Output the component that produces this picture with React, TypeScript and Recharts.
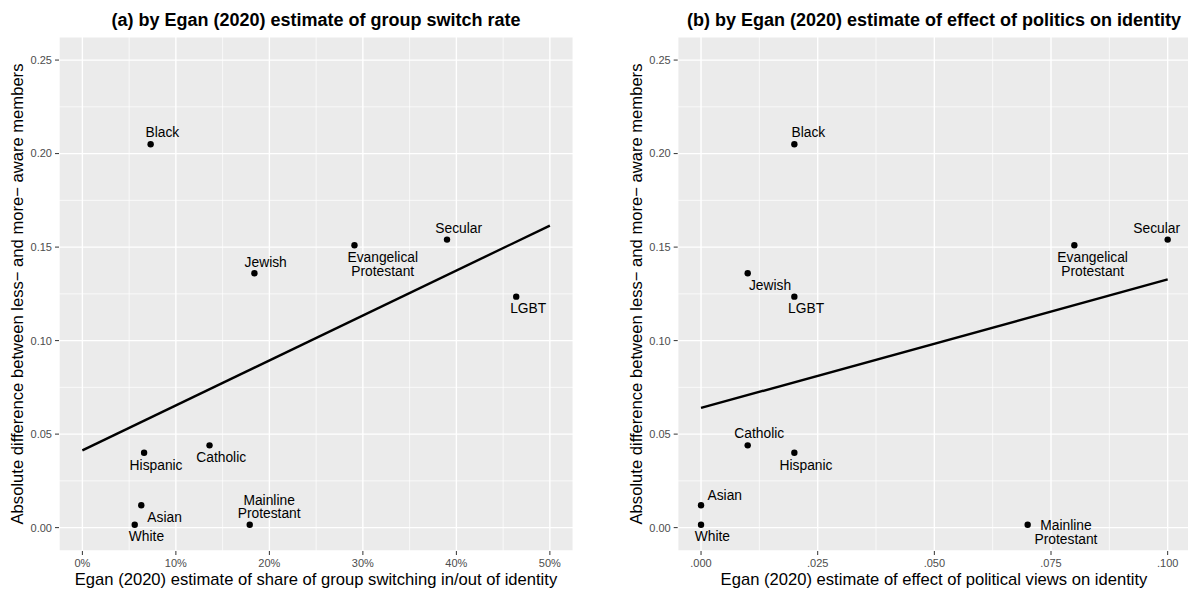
import React from 'react';
import { ScatterChart, Scatter, XAxis, YAxis, CartesianGrid, ReferenceLine } from 'recharts';

// groups and their values
const groups = ['Black', 'Jewish', 'Evangelical Protestant', 'Secular', 'LGBT', 'Hispanic', 'Catholic', 'Asian', 'White', 'Mainline Protestant'];
const switchShare = [0.073, 0.184, 0.291, 0.39, 0.464, 0.066, 0.136, 0.063, 0.056, 0.179];
const politicsEffect = [0.02, 0.01, 0.08, 0.1, 0.02, 0.02, 0.01, 0, 0, 0.07];
const awarenessGap = [0.205, 0.136, 0.151, 0.154, 0.1235, 0.04, 0.044, 0.012, 0.0015, 0.0015];

// fitted lines (endpoints)
const fitSwitchX = [0, 0.5];
const fitSwitchY = [0.0413, 0.1615];
const fitPoliticsX = [0, 0.1];
const fitPoliticsY = [0.064, 0.1327];

// ticks
const yTicks = [0, 0.05, 0.1, 0.15, 0.2, 0.25];
const yMinor = [0.025, 0.075, 0.125, 0.175, 0.225];
const switchTicks = [0, 0.1, 0.2, 0.3, 0.4, 0.5];
const switchMinor = [0.05, 0.15, 0.25, 0.35, 0.45];
const politicsTicks = [0, 0.025, 0.05, 0.075, 0.1];
const politicsMinor = [0.0125, 0.0375, 0.0625, 0.0875];

// where the repelled labels sit relative to each dot (first line centre, px)
const labelShiftA = [[11.7, -11.3], [11.3, -11], [28.3, 12.3], [11.7, -11.3], [12, 12], [12, 12.7], [11.7, 12.6], [23.3, 12], [11.7, 12], [19.4, -24.6]];
const labelShiftB = [[14, -11.3], [22.3, 12.4], [18.3, 12.3], [-11, -11.3], [11.7, 12.3], [11.7, 12.7], [11.6, -11.4], [23.7, -10], [11.3, 12], [38.3, 0.7]];

const FONT = '"Liberation Sans", Arial, Helvetica, sans-serif';
const yTitle = 'Absolute difference between less\u2212 and more\u2212 aware members';

const dataA = groups.map((name, i) => ({ name, x: switchShare[i], y: awarenessGap[i], i }));
const dataB = groups.map((name, i) => ({ name, x: politicsEffect[i], y: awarenessGap[i], i }));

const makeDot = (shifts: number[][]) => (props: any) => {
  const { cx, cy, payload } = props;
  const [dx, dy] = shifts[payload.i];
  const lines = payload.name.split(' ');
  return (
    <g>
      <circle cx={cx} cy={cy} r={3.2} fill="#000" />
      {lines.map((t: string, k: number) => (
        <text key={k} x={cx + dx} y={cy + dy + k * 13.7} textAnchor="middle" dominantBaseline="central"
          fontSize={13.8} fontFamily={FONT} fill="#000">{t}</text>
      ))}
    </g>
  );
};

const tickStyle = { fontSize: 11, fill: '#4d4d4d', fontFamily: FONT };
const pct = (v: number) => `${Math.round(v * 100)}%`;
const dec = (v: number) => v.toFixed(3).replace(/^0/, '');

interface PanelProps {
  data: any[];
  xDomain: number[];
  xTicks: number[];
  xMinor: number[];
  xFmt: (v: number) => string;
  fitX: number[];
  fitY: number[];
  shifts: number[][];
  width: number;
  yAxisWidth: number;
  rightMargin: number;
}

const Panel = ({ data, xDomain, xTicks, xMinor, xFmt, fitX, fitY, shifts, width, yAxisWidth, rightMargin }: PanelProps) => (
  <ScatterChart width={width} height={591} margin={{ top: 36.7, right: rightMargin, bottom: 0, left: 0 }}>
    <CartesianGrid stroke="#fff" strokeWidth={1.4} fill="#EBEBEB" fillOpacity={1} />
    {xMinor.map(v => <ReferenceLine key={'x' + v} x={v} stroke="#fff" strokeWidth={0.7} />)}
    {yMinor.map(v => <ReferenceLine key={'y' + v} y={v} stroke="#fff" strokeWidth={0.7} />)}
    <XAxis type="number" dataKey="x" domain={xDomain} ticks={xTicks} tickFormatter={xFmt} allowDataOverflow
      axisLine={false} tickSize={4} tickMargin={4} tick={tickStyle} tickLine={{ stroke: '#333' }} height={40} />
    <YAxis type="number" dataKey="y" domain={[-0.0125, 0.2625]} ticks={yTicks} tickFormatter={(v: number) => v.toFixed(2)}
      allowDataOverflow axisLine={false} tickSize={4} tickMargin={3} tick={tickStyle} tickLine={{ stroke: '#333' }} width={yAxisWidth} />
    <ReferenceLine segment={[{ x: fitX[0], y: fitY[0] }, { x: fitX[1], y: fitY[1] }]} stroke="#000" strokeWidth={2.4} />
    <Scatter data={data} isAnimationActive={false} shape={makeDot(shifts)} />
  </ScatterChart>
);

const abs = (left: number, top: number, extra: any = {}) => ({
  position: 'absolute' as const, left, top, transform: 'translate(-50%, -50%)', whiteSpace: 'nowrap' as const,
  fontFamily: FONT, color: '#000', lineHeight: 1, ...extra,
});

export default function App() {
  return (
    <div style={{ position: 'relative', width: 1188, height: 591, overflow: 'hidden', background: '#fff' }}>
      <style>{'body{margin:0}'}</style>
      <div style={{ position: 'absolute', left: 0, top: 0 }}>
        <Panel data={dataA} xDomain={[-0.025, 0.525]} xTicks={switchTicks} xMinor={switchMinor} xFmt={pct}
          fitX={fitSwitchX} fitY={fitSwitchY} shifts={labelShiftA} width={594} yAxisWidth={59} rightMargin={20.75} />
      </div>
      <div style={{ position: 'absolute', left: 594, top: 0 }}>
        <Panel data={dataB} xDomain={[-0.005, 0.105]} xTicks={politicsTicks} xMinor={politicsMinor} xFmt={dec}
          fitX={fitPoliticsX} fitY={fitPoliticsY} shifts={labelShiftB} width={600} yAxisWidth={83.7} rightMargin={3} />
      </div>
      <div style={abs(316, 20, { fontSize: 18, fontWeight: 'bold' })}>(a) by Egan (2020) estimate of group switch rate</div>
      <div style={abs(934, 20, { fontSize: 18, fontWeight: 'bold' })}>(b) by Egan (2020) estimate of effect of politics on identity</div>
      <div style={abs(316, 580, { fontSize: 16.6 })}>Egan (2020) estimate of share of group switching in/out of identity</div>
      <div style={abs(934, 580, { fontSize: 16.6 })}>Egan (2020) estimate of effect of political views on identity</div>
      <div style={abs(18, 294, { fontSize: 16.6, transform: 'translate(-50%, -50%) rotate(-90deg)' })}>{yTitle}</div>
      <div style={abs(637, 294, { fontSize: 16.6, transform: 'translate(-50%, -50%) rotate(-90deg)' })}>{yTitle}</div>
    </div>
  );
}
